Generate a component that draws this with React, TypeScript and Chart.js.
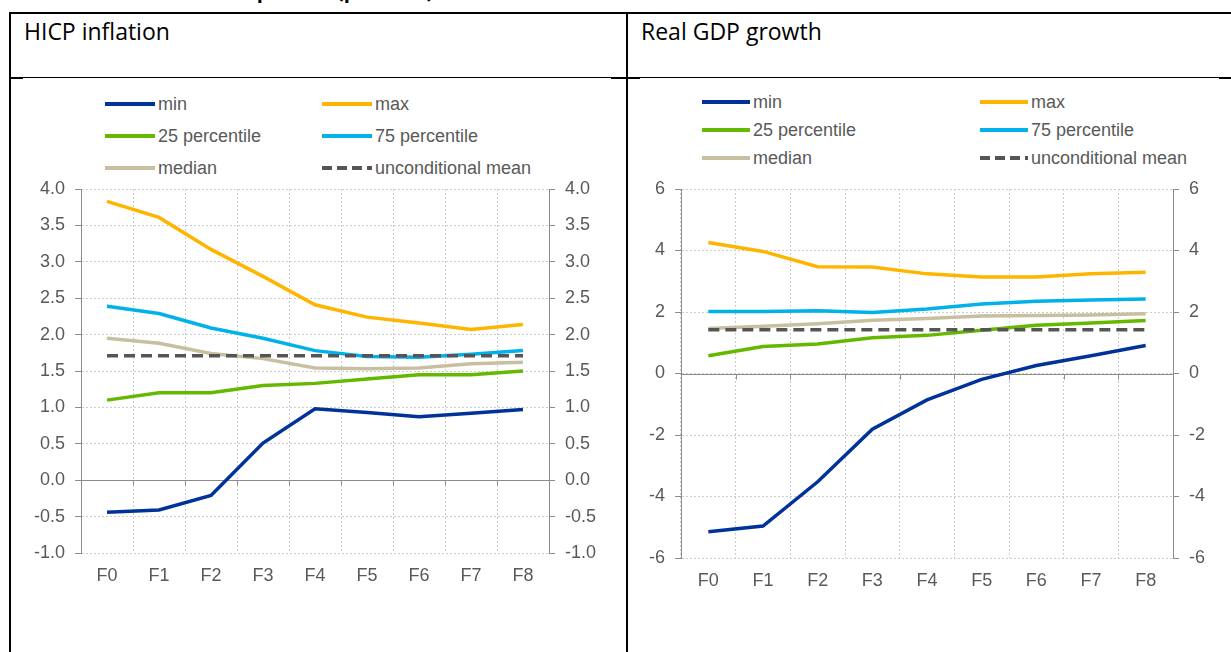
import React, { useEffect, useRef } from "react";
import { Chart, registerables } from "chart.js";

Chart.register(...registerables);

// ---------- data ----------
const categories = ["F0", "F1", "F2", "F3", "F4", "F5", "F6", "F7", "F8"];

const hicpMin = [-0.44, -0.41, -0.21, 0.51, 0.98, 0.93, 0.87, 0.92, 0.97];
const hicpMax = [3.83, 3.61, 3.17, 2.8, 2.41, 2.24, 2.16, 2.07, 2.14];
const hicpP25 = [1.1, 1.2, 1.2, 1.3, 1.33, 1.39, 1.45, 1.45, 1.5];
const hicpP75 = [2.39, 2.29, 2.09, 1.95, 1.78, 1.7, 1.69, 1.73, 1.78];
const hicpMedian = [1.95, 1.88, 1.74, 1.67, 1.54, 1.53, 1.54, 1.6, 1.62];
const hicpMean = [1.71, 1.71, 1.71, 1.71, 1.71, 1.71, 1.71, 1.71, 1.71];
const hicpYTicks = [-1, -0.5, 0, 0.5, 1, 1.5, 2, 2.5, 3, 3.5, 4];

const gdpMin = [-5.15, -4.96, -3.52, -1.81, -0.86, -0.19, 0.26, 0.58, 0.91];
const gdpMax = [4.26, 3.97, 3.47, 3.46, 3.24, 3.14, 3.14, 3.24, 3.29];
const gdpP25 = [0.58, 0.88, 0.96, 1.16, 1.24, 1.41, 1.57, 1.64, 1.72];
const gdpP75 = [2.02, 2.02, 2.04, 1.98, 2.1, 2.26, 2.35, 2.39, 2.42];
const gdpMedian = [1.46, 1.54, 1.62, 1.73, 1.79, 1.87, 1.89, 1.9, 1.94];
const gdpMean = [1.42, 1.42, 1.42, 1.42, 1.42, 1.42, 1.42, 1.42, 1.42];
const gdpYTicks = [-6, -4, -2, 0, 2, 4, 6];

const seriesNames = ["min", "max", "25 percentile", "75 percentile", "median", "unconditional mean"];

// ---------- styles ----------
const COLORS = {
  min: "#003399",
  max: "#FFB400",
  p25: "#65B800",
  p75: "#00B1EA",
  median: "#C8BFA0",
  mean: "#555555",
};
const TEXT = "#595959";
const AXIS = "#8c8c8c";
const GRID = "#cccccc";
const FONT = "'Liberation Sans', Arial, sans-serif";

type PanelProps = {
  series: { min: number[]; max: number[]; p25: number[]; p75: number[]; median: number[]; mean: number[] };
  yTicks: number[];
  decimals: number;
  left: number;
  top: number;
  width: number;
  height: number;
  leftAxisW: number;
  rightAxisW: number;
  xAxisH: number;
  legend: { col1: number; col2: number; rows: number[]; sample: number };
};

const zeroLinePlugin = {
  id: "zeroLine",
  beforeDatasetsDraw(chart: any) {
    const { ctx, chartArea, scales } = chart;
    const y0 = Math.round(scales.y.getPixelForValue(0)) + 0.5;
    const xs = scales.x;
    const n = categories.length;
    ctx.save();
    ctx.strokeStyle = AXIS;
    ctx.lineWidth = 1;
    ctx.setLineDash([]);
    ctx.beginPath();
    ctx.moveTo(chartArea.left, y0);
    ctx.lineTo(chartArea.right, y0);
    for (let i = 1; i < n; i++) {
      const x = Math.round((xs.getPixelForValue(i - 1) + xs.getPixelForValue(i)) / 2) + 0.5;
      ctx.moveTo(x, y0);
      ctx.lineTo(x, y0 + 5);
    }
    ctx.stroke();
    ctx.restore();
  },
};

function Panel(p: PanelProps) {
  const ref = useRef<HTMLCanvasElement>(null);
  useEffect(() => {
    if (!ref.current) return;
    const mk = (label: string, data: number[], color: string, dashed = false) => ({
      label,
      data,
      borderColor: color,
      backgroundColor: color,
      borderWidth: 3.5,
      borderDash: dashed ? [11, 6] : [],
      pointRadius: 0,
      tension: 0,
      fill: false,
      yAxisID: "y",
    });
    const fmt = (v: any) => Number(v).toFixed(p.decimals);
    const yMin = p.yTicks[0];
    const yMax = p.yTicks[p.yTicks.length - 1];
    const tickFont = { family: FONT, size: 18, lineHeight: 1 };
    const chart = new Chart(ref.current, {
      type: "line",
      data: {
        labels: categories,
        datasets: [
          mk(seriesNames[5], p.series.mean, COLORS.mean, true),
          mk(seriesNames[0], p.series.min, COLORS.min),
          mk(seriesNames[1], p.series.max, COLORS.max),
          mk(seriesNames[2], p.series.p25, COLORS.p25),
          mk(seriesNames[3], p.series.p75, COLORS.p75),
          mk(seriesNames[4], p.series.median, COLORS.median),
        ],
      },
      options: {
        animation: false,
        responsive: false,
        maintainAspectRatio: false,
        layout: { padding: { top: 1, left: 0, right: 0, bottom: 0 } },
        plugins: { legend: { display: false }, tooltip: { enabled: false } },
        scales: {
          x: {
            type: "category",
            offset: true,
            grid: { display: true, offset: true, color: GRID, drawTicks: false, lineWidth: 1 },
            border: { display: false, dash: [2, 2] },
            ticks: { color: TEXT, font: tickFont, padding: 14, maxRotation: 0, autoSkip: false },
            afterFit: (s: any) => {
              s.height = p.xAxisH;
            },
          },
          y: {
            position: "left",
            min: yMin,
            max: yMax,
            afterBuildTicks: (s: any) => {
              s.ticks = p.yTicks.map((v) => ({ value: v }));
            },
            grid: { color: GRID, tickColor: AXIS, tickLength: 6, drawTicks: true, lineWidth: 1 },
            border: { display: true, color: AXIS, width: 1, dash: [2, 2] },
            ticks: { color: TEXT, font: tickFont, padding: 10, callback: fmt },
            afterFit: (s: any) => {
              s.width = p.leftAxisW;
            },
          },
          y2: {
            position: "right",
            min: yMin,
            max: yMax,
            afterBuildTicks: (s: any) => {
              s.ticks = p.yTicks.map((v) => ({ value: v }));
            },
            grid: { drawOnChartArea: false, tickColor: AXIS, tickLength: 6, drawTicks: true },
            border: { display: true, color: AXIS, width: 1 },
            ticks: { color: TEXT, font: tickFont, padding: 10, callback: fmt },
            afterFit: (s: any) => {
              s.width = p.rightAxisW;
            },
          },
        },
      } as any,
      plugins: [zeroLinePlugin],
    });
    return () => chart.destroy();
  }, []);

  const legendItems = [
    { name: seriesNames[0], color: COLORS.min, dashed: false, col: 0, row: 0 },
    { name: seriesNames[1], color: COLORS.max, dashed: false, col: 1, row: 0 },
    { name: seriesNames[2], color: COLORS.p25, dashed: false, col: 0, row: 1 },
    { name: seriesNames[3], color: COLORS.p75, dashed: false, col: 1, row: 1 },
    { name: seriesNames[4], color: COLORS.median, dashed: false, col: 0, row: 2 },
    { name: seriesNames[5], color: COLORS.mean, dashed: true, col: 1, row: 2 },
  ];

  return (
    <>
      {legendItems.map((it) => {
        const x = it.col === 0 ? p.legend.col1 : p.legend.col2;
        const y = p.legend.rows[it.row];
        return (
          <div
            key={it.name}
            style={{ position: "absolute", left: x, top: y - 12, height: 24, display: "flex", alignItems: "center" }}
          >
            <svg width={p.legend.sample} height={24} style={{ display: "block" }}>
              <line
                x1={0}
                y1={12}
                x2={p.legend.sample}
                y2={12}
                stroke={it.color}
                strokeWidth={4}
                strokeDasharray={it.dashed ? "10 5" : undefined}
              />
            </svg>
            <span style={{ marginLeft: 3, font: `18px ${FONT}`, color: TEXT, whiteSpace: "nowrap" }}>{it.name}</span>
          </div>
        );
      })}
      <canvas
        ref={ref}
        width={p.width}
        height={p.height}
        style={{ position: "absolute", left: p.left, top: p.top, width: p.width, height: p.height }}
      />
    </>
  );
}

export default function App() {
  const line = (s: React.CSSProperties) => <div style={{ position: "absolute", background: "#000", ...s }} />;
  return (
    <div
      style={{
        position: "absolute",
        left: 0,
        top: 0,
        width: 1231,
        height: 652,
        overflow: "hidden",
        background: "#fff",
      }}
    >
      {/* clipped document caption above the table */}
      <div style={{ position: "absolute", left: 0, top: 0, width: 1231, height: 6, overflow: "hidden" }}>
        <div
          style={{
            position: "absolute",
            left: 24,
            top: -19,
            font: `bold 20px 'Open Sans', sans-serif`,
            lineHeight: "20px",
            whiteSpace: "nowrap",
            color: "#000",
          }}
        >
          Chart 1: Conditional dispersion (per cent)
        </div>
      </div>

      {/* table borders */}
      {line({ left: 9, top: 12, width: 1222, height: 2 })}
      {line({ left: 9, top: 12, width: 2, height: 640 })}
      {line({ left: 626, top: 12, width: 2, height: 640 })}
      {line({ left: 9, top: 77, width: 1222, height: 1 })}
      {line({ left: 9, top: 77, width: 14, height: 2 })}
      {line({ left: 611, top: 77, width: 29, height: 2 })}
      {line({ left: 1219, top: 77, width: 12, height: 2 })}

      <div
        style={{
          position: "absolute",
          left: 24,
          top: 15,
          font: `23px 'Open Sans', sans-serif`,
          color: "#000",
          whiteSpace: "nowrap",
        }}
      >
        HICP inflation
      </div>
      <div
        style={{
          position: "absolute",
          left: 641,
          top: 15,
          font: `23px 'Open Sans', sans-serif`,
          color: "#000",
          whiteSpace: "nowrap",
        }}
      >
        Real GDP growth
      </div>

      <Panel
        series={{ min: hicpMin, max: hicpMax, p25: hicpP25, p75: hicpP75, median: hicpMedian, mean: hicpMean }}
        yTicks={hicpYTicks}
        decimals={1}
        left={20}
        top={170}
        width={590}
        height={420}
        leftAxisW={61}
        rightAxisW={61}
        xAxisH={37}
        legend={{ col1: 105, col2: 322, rows: [104, 136, 168], sample: 50 }}
      />
      <Panel
        series={{ min: gdpMin, max: gdpMax, p25: gdpP25, p75: gdpP75, median: gdpMedian, mean: gdpMean }}
        yTicks={gdpYTicks}
        decimals={0}
        left={630}
        top={170}
        width={590}
        height={420}
        leftAxisW={51}
        rightAxisW={47}
        xAxisH={32}
        legend={{ col1: 702, col2: 980, rows: [102, 130, 158], sample: 48 }}
      />
    </div>
  );
}
